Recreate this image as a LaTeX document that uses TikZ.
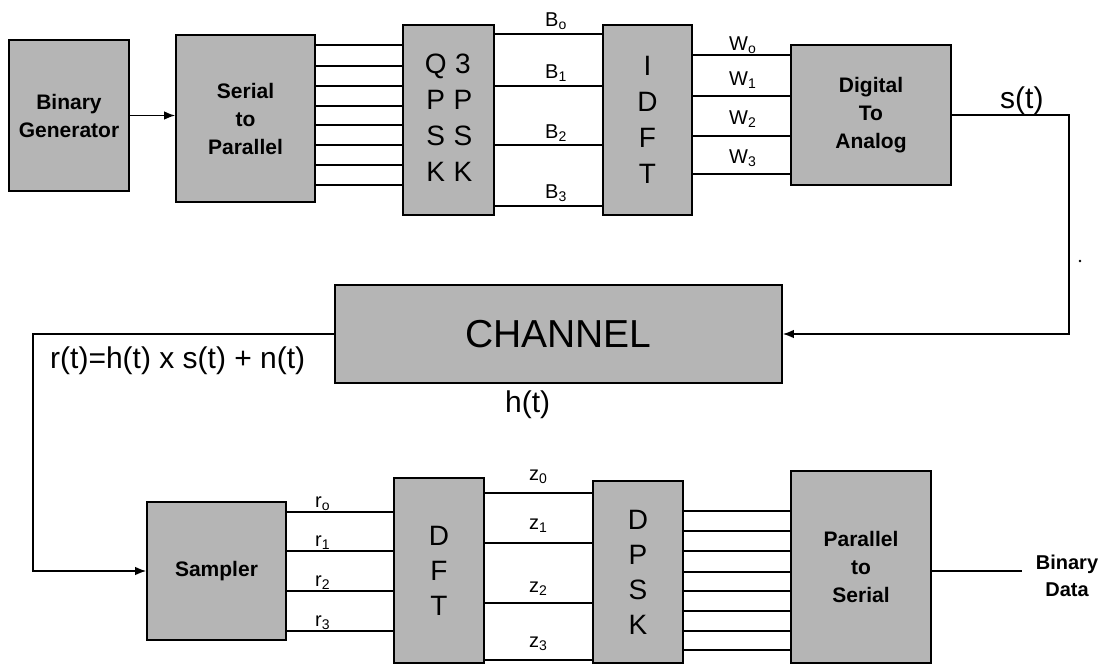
\documentclass[tikz,border=0pt]{standalone}
\usepackage{fontspec}
\setmainfont{Liberation Sans}
\usetikzlibrary{arrows.meta}
\definecolor{boxgray}{gray}{0.71}
\begin{document}
\begin{tikzpicture}[x=1pt,y=-1pt,
  blk/.style={draw=black,line width=1.7pt,fill=boxgray,inner sep=0pt,align=center},
  boldtxt/.style={font=\bfseries\fontsize{21}{28}\selectfont},
  lettxt/.style={font=\fontsize{28}{36}\selectfont},
  wire/.style={line width=1.4pt},
  arr/.style={wire,-{Latex[length=11pt,width=8.5pt]}},
  lab/.style={font=\fontsize{20}{22}\selectfont,inner sep=0pt,anchor=base west},
  sig/.style={font=\fontsize{30}{32}\selectfont,inner sep=0pt,anchor=base west}]
\useasboundingbox (0,0) rectangle (1104,665);

% ---- top row
\node[blk,boldtxt,minimum width=120pt,minimum height=151pt] (bg) at (69,115.5) {Binary\\Generator};
\node[blk,boldtxt,minimum width=139pt,minimum height=167pt] (sp) at (245.5,118.5) {Serial\\to\\Parallel};
\node[blk,lettxt,minimum width=91pt,minimum height=190pt] (qpsk) at (448.5,120)
  {\begin{tabular}{@{}c@{\hspace{7pt}}c@{}}Q&3\\P&P\\S&S\\K&K\end{tabular}};
\node[blk,lettxt,minimum width=89pt,minimum height=190pt] (idft) at (647.5,120) {I\\D\\F\\T};
\node[blk,boldtxt,minimum width=160pt,minimum height=140pt] (dac) at (871,115) {Digital\\To\\Analog};

% ---- channel
\node[blk,font=\fontsize{39}{42}\selectfont,minimum width=447pt,minimum height=98pt] (ch) at (558.5,334) {CHANNEL};

% ---- bottom row
\node[blk,boldtxt,minimum width=139pt,minimum height=138pt] (samp) at (216.5,571) {Sampler};
\node[blk,font=\fontsize{28}{35}\selectfont,minimum width=90pt,minimum height=185pt] (dft) at (439,570.5) {D\\F\\T};
\node[blk,font=\fontsize{28}{35}\selectfont,minimum width=90pt,minimum height=182pt] (dpsk) at (638,572) {D\\P\\S\\K};
\node[blk,boldtxt,minimum width=140pt,minimum height=192pt] (ps) at (861,567) {Parallel\\to\\Serial};

% ---- connectors top
\draw[arr] (bg.east) -- (sp.west |- bg.east);
\foreach \yy in {45,66,86,106,125,145,165,185}
  \draw[wire] (sp.east |- 0,\yy) -- (qpsk.west |- 0,\yy);
\foreach \yy in {34,86,145,206}
  \draw[wire] (qpsk.east |- 0,\yy) -- (idft.west |- 0,\yy);
\foreach \yy in {55,96,136,174}
  \draw[wire] (idft.east |- 0,\yy) -- (dac.west |- 0,\yy);

\node[lab] (b0) at (545,26) {B\textsubscript{o}};
\node[lab] (b1) at (545,78) {B\textsubscript{1}};
\node[lab] (b2) at (545,138) {B\textsubscript{2}};
\node[lab] (b3) at (545,198) {B\textsubscript{3}};
\node[lab] (w0) at (729,50) {W\textsubscript{o}};
\node[lab] (w1) at (729,85) {W\textsubscript{1}};
\node[lab] (w2) at (729,124) {W\textsubscript{2}};
\node[lab] (w3) at (729,163) {W\textsubscript{3}};

% ---- s(t) feedback to channel
\coordinate (rt) at (1069,0);
\draw[arr] (dac.east) -| (rt |- ch.east) -- (ch.east);
\node[sig] (st) at (1000,108) {s(t)};
\node[circle,fill=black,inner sep=0pt,minimum size=2.6pt] (dot) at (1080,261) {};

% ---- channel to sampler
\coordinate (lt) at (33,0);
\draw[arr] (ch.west) -| (lt |- samp.west) -- (samp.west);
\node[sig] (rteq) at (50,368) {r(t)=h(t) x s(t) + n(t)};
\node[sig] (ht) at (505,412) {h(t)};

% ---- connectors bottom
\foreach \yy in {512,551,591,631}
  \draw[wire] (samp.east |- 0,\yy) -- (dft.west |- 0,\yy);
\foreach \yy in {493,543,603,660}
  \draw[wire] (dft.east |- 0,\yy) -- (dpsk.west |- 0,\yy);
\foreach \yy in {511,531,551,572,591,611,631,650}
  \draw[wire] (dpsk.east |- 0,\yy) -- (ps.west |- 0,\yy);

\node[lab] (r0) at (315,507) {r\textsubscript{o}};
\node[lab] (r1) at (315,546) {r\textsubscript{1}};
\node[lab] (r2) at (315,586) {r\textsubscript{2}};
\node[lab] (r3) at (315,626) {r\textsubscript{3}};
\node[lab] (z0) at (529,480) {z\textsubscript{0}};
\node[lab] (z1) at (529,529) {z\textsubscript{1}};
\node[lab] (z2) at (529,592) {z\textsubscript{2}};
\node[lab] (z3) at (529,647) {z\textsubscript{3}};

% ---- output
\coordinate (outend) at (1022,571);
\draw[wire] (ps.east |- outend) -- (outend);
\node[font=\bfseries\fontsize{20}{27}\selectfont,align=center,inner sep=0pt] (bd) at (1067,576) {Binary\\Data};
\end{tikzpicture}
\end{document}
